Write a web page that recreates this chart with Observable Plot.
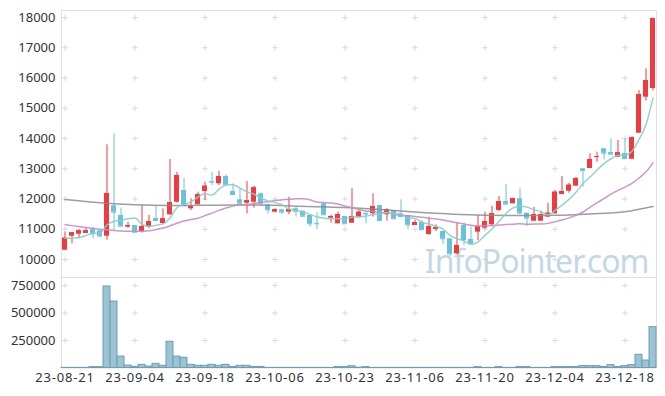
<!DOCTYPE html>
<html><head><meta charset="utf-8">
<script src="https://cdn.jsdelivr.net/npm/d3@7"></script>
<script src="https://cdn.jsdelivr.net/npm/@observablehq/plot@0.6"></script>
<style>
html,body{margin:0;padding:0;background:#fff;}
#chart svg{display:block;}
#chart svg.vol{margin-top:-10px;position:relative;}
</style></head><body><div id="chart"></div>
<script>
const dates = ["23-08-21","23-08-22","23-08-23","23-08-24","23-08-25","23-08-28","23-08-29","23-08-30","23-08-31","23-09-01",
"23-09-04","23-09-05","23-09-06","23-09-07","23-09-08","23-09-11","23-09-12","23-09-13","23-09-14","23-09-15",
"23-09-18","23-09-19","23-09-20","23-09-21","23-09-22","23-09-25","23-09-26","23-09-27","23-10-04","23-10-05",
"23-10-06","23-10-10","23-10-11","23-10-12","23-10-13","23-10-16","23-10-17","23-10-18","23-10-19","23-10-20",
"23-10-23","23-10-24","23-10-25","23-10-26","23-10-27","23-10-30","23-10-31","23-11-01","23-11-02","23-11-03",
"23-11-06","23-11-07","23-11-08","23-11-09","23-11-10","23-11-13","23-11-14","23-11-15","23-11-16","23-11-17",
"23-11-20","23-11-21","23-11-22","23-11-23","23-11-24","23-11-27","23-11-28","23-11-29","23-11-30","23-12-01",
"23-12-04","23-12-05","23-12-06","23-12-07","23-12-08","23-12-11","23-12-12","23-12-13","23-12-14","23-12-15",
"23-12-18","23-12-19","23-12-20","23-12-21","23-12-22"];
const open = [10307,10770,10836,10860,10992,10949,10770,11775,11455,11068,
11124,10926,11091,11355,11190,11478,11894,12281,11676,11808,
12248,12580,12503,12744,12248,11974,11860,11894,12172,11808,
11564,11643,11564,11676,11597,11455,11200,11841,11365,11180,
11422,11200,11378,11530,11510,11785,11478,11620,11510,11455,
11124,11233,10827,10992,10926,10684,10188,11124,10661,10903,
11035,11147,11620,11917,11841,12007,11530,11266,11266,11400,
11510,12149,12258,12423,12998,13008,13388,13660,13537,13382,
13504,13316,14175,15366,15653];
const high = [10903,10883,10992,11035,11068,10949,13792,14155,11700,11233,
11124,11785,11455,11785,11676,13306,12876,12688,12007,12225,
12556,12886,12909,12800,12502,12314,12579,12423,12200,11808,
11680,11643,12060,11740,11600,11455,11544,11875,11455,11564,
11422,12337,11610,11530,12172,11785,11680,11620,11974,11455,
11300,11280,11398,11147,10926,10684,11213,11213,11068,11455,
11564,11762,12083,12480,12017,12337,11530,11729,11600,11861,
12281,12744,12522,12710,12998,13494,13547,13660,13990,13934,
13990,14050,15587,16305,17967];
const low = [10300,10519,10684,10860,10684,10770,10638,10960,11100,11035,
10870,10870,11015,11290,11150,11455,11860,11729,11620,11808,
11950,12446,12446,12470,12149,11860,11510,11696,11800,11510,
11540,11490,11477,11400,11431,11068,10982,11478,11200,11180,
11180,11200,11378,11180,11400,11290,11266,11345,11400,10982,
11124,10982,10793,10925,10486,10110,10150,10463,10519,10628,
11000,11100,11580,11828,11841,11500,11091,11266,11266,11400,
11510,12149,12192,12423,12390,13008,13216,13296,13481,13382,
13339,13296,14175,15233,15565];
const close = [10704,10883,10949,10949,10850,10770,12182,11564,11100,11124,
10903,11091,11256,11290,11345,11875,12777,11785,11752,12139,
12423,12556,12744,12470,12149,11860,11950,12370,11841,11643,
11643,11564,11653,11597,11431,11180,11180,11478,11422,11488,
11180,11422,11564,11500,11752,11290,11653,11345,11422,11147,
11224,10982,11091,11048,10684,10188,10463,10661,10519,11091,
11256,11510,11917,11828,12017,11530,11365,11488,11488,11530,
12225,12248,12456,12677,12942,13306,13405,13514,13481,13527,
13339,14033,15455,15918,17967];
const volume = [1000,1000,1000,1000,8000,8000,741000,604000,104000,22000,
10000,29000,13000,38000,20000,238000,104000,93000,29000,20000,
20000,29000,20000,29000,10000,20000,20000,10000,10000,1000,
1000,1000,1000,1000,1000,1000,1000,1000,1000,8000,
8000,16000,3000,8000,1000,1000,1000,1000,1000,1000,
1000,1000,1000,1000,1000,1000,1000,1000,1000,8000,
1000,1000,8000,1000,1000,8000,8000,1000,1000,1000,
8000,8000,8000,10000,17000,17000,17000,9000,26000,9000,
17000,26000,120000,68000,371000];
const ma5 = [10704,10704,10730,10793,10867,10880,11140,11263,11293,11348,
11375,11156,11095,11133,11177,11371,11709,11814,11907,12066,
12175,12131,12323,12466,12468,12356,12235,12160,12034,11933,
11889,11812,11669,11620,11578,11485,11408,11373,11338,11350,
11350,11398,11415,11431,11484,11506,11552,11508,11492,11371,
11358,11224,11173,11098,11006,10799,10695,10609,10503,10584,
10798,11007,11259,11520,11706,11760,11731,11646,11578,11480,
11619,11796,11989,12227,12510,12726,12957,13169,13330,13447,
13453,13579,13967,14454,15342];
const ma20 = [11157,11120,11090,11060,11030,11000,10980,10960,10945,10935,
10930,10935,10950,10990,11040,11110,11200,11270,11320,11364,
11450,11534,11624,11700,11765,11819,11808,11848,11885,11911,
11948,11972,11991,12007,12011,11976,11897,11881,11865,11832,
11770,11713,11654,11606,11586,11557,11543,11491,11470,11446,
11425,11396,11367,11340,11303,11253,11217,11176,11131,11111,
11115,11120,11137,11154,11167,11179,11164,11172,11175,11194,
11244,11307,11376,11457,11570,11726,11873,12016,12164,12286,
12390,12516,12693,12897,13195];
const ma60Dates = ["23-08-21","23-08-28","23-09-04","23-09-11","23-09-18","23-09-25","23-10-06","23-10-12","23-10-17","23-10-23","23-10-30","23-11-06","23-11-13","23-11-20","23-11-27","23-12-04","23-12-11","23-12-18","23-12-22"];
const ma60Values = [11983,11874,11808,11785,11790,11800,11790,11762,11745,11715,11650,11570,11505,11465,11455,11462,11505,11580,11752];
const tickDates = ["23-08-21","23-09-04","23-09-18","23-10-06","23-10-23","23-11-06","23-11-20","23-12-04","23-12-18"];
const priceTicks = [10000,11000,12000,13000,14000,15000,16000,17000,18000];
const volTicks = [250000,500000,750000];
const watermark = "InfoPointer.com";

const red = "#ef3a3f", blue = "#69c2dc";
const candles = dates.map((d,i)=>({date:d, open:open[i], high:high[i], low:low[i], close:close[i], volume:volume[i], col: close[i] >= open[i] ? red : blue}));
const ma5Data = dates.map((d,i)=>({date:d, v:ma5[i]}));
const ma20Data = dates.map((d,i)=>({date:d, v:ma20[i]}));
const ma60Data = ma60Dates.map((d,i)=>({date:d, v:ma60Values[i]}));
const priceGrid = tickDates.flatMap(d => priceTicks.map(v => ({date:d, v})));
const volGrid = tickDates.flatMap(d => volTicks.map(v => ({date:d, v})));

const baseStyle = {fontFamily: "'Noto Sans', sans-serif", fontSize: "13px", color: "#333", background: "transparent"};

const price = Plot.plot({
  width: 665, height: 287, marginTop: 10, marginBottom: 10, marginLeft: 61, marginRight: 9,
  style: baseStyle,
  color: {type: "identity"},
  x: {type: "band", domain: dates, paddingInner: 0.3, paddingOuter: 0.15, axis: null},
  y: {domain: [9405, 18231], ticks: priceTicks, tickFormat: d => String(d), tickSize: 0, tickPadding: 6, label: null},
  marks: [
    Plot.frame({stroke: "#e0e0e0"}),
    Plot.dot(priceGrid, {x: "date", y: "v", symbol: "plus", r: 2, stroke: "#d9d9d9", strokeWidth: 1}),
    Plot.text([watermark], {frameAnchor: "bottom-right", text: d => d, textAnchor: "end", lineAnchor: "bottom", dx: -8, dy: -5, fontSize: 32, fill: "#c3d8e3"}),
    Plot.ruleX(candles, {x: "date", y1: "low", y2: "high", stroke: "col", strokeWidth: 1}),
    Plot.barY(candles, {x: "date", y1: "open", y2: "close", fill: "col"}),
    Plot.tickY(candles, {x: "date", y: "close", stroke: "col", strokeWidth: 1}),
    Plot.line(ma60Data, {x: "date", y: "v", stroke: "#8c8c8c", strokeWidth: 1.5, strokeOpacity: 0.85, curve: "monotone-x"}),
    Plot.line(ma20Data, {x: "date", y: "v", stroke: "#c98bc3", strokeWidth: 1.5, strokeOpacity: 0.9, curve: "monotone-x"}),
    Plot.line(ma5Data, {x: "date", y: "v", stroke: "#86cfc5", strokeWidth: 1.5, strokeOpacity: 0.9, curve: "monotone-x"})
  ]
});

const vol = Plot.plot({
  width: 665, height: 119, marginTop: 0, marginBottom: 28.5, marginLeft: 61, marginRight: 9,
  style: baseStyle,
  className: "vol",
  x: {type: "band", domain: dates, padding: 0, ticks: tickDates, tickFormat: d => tickDates.includes(d) ? d : "", tickSize: 0, tickPadding: 5, label: null},
  y: {domain: [0, 822700], ticks: volTicks, tickFormat: d => String(d), tickSize: 0, tickPadding: 6, label: null},
  marks: [
    Plot.frame({stroke: "#e0e0e0"}),
    Plot.dot(volGrid, {x: "date", y: "v", symbol: "plus", r: 2, stroke: "#d9d9d9", strokeWidth: 1}),
    Plot.barY(candles, {x: "date", y: "volume", fill: "#9cc3d4", stroke: "#6a9eb5", strokeWidth: 1})
  ]
});

d3.select(price).selectAll("text").filter(function(){ return this.textContent === watermark; }).style("letter-spacing", "-1px");
d3.select(vol).selectAll('g[aria-label^="x-axis"] text').style("letter-spacing", "0.8px");
vol.classList.add("vol");

document.getElementById("chart").append(price, vol);
</script></body></html>
